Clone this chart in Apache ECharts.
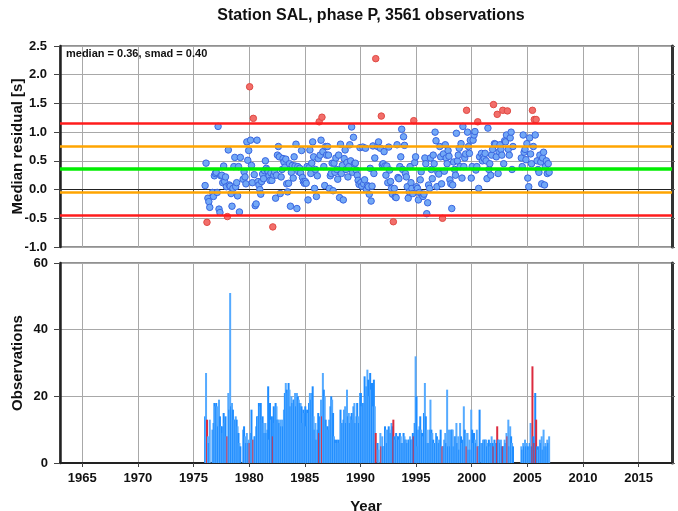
<!DOCTYPE html>
<html><head><meta charset="utf-8">
<script src="https://cdn.jsdelivr.net/npm/echarts@6/dist/echarts.min.js"></script>
<style>html,body{margin:0;padding:0;background:#fff}#c{width:678px;height:511px}</style>
</head><body><div id="c"></div>
<script>
const chartTitle = 'Station SAL, phase P, 3561 observations';
const statsText = 'median = 0.36, smad = 0.40';
const median = 0.36;
const smad = 0.40;
const startYear = 1976; // monthly bins, Jan 1976 .. Dec 2006
const xMin = 1963, xMax = 2018;
const resMin = -1.0, resMax = 2.5, resStep = 0.5;
const obsMin = 0, obsMax = 60, obsStep = 20;

// median residual per month
const medians = [
  /*1976*/ 0.07, 0.46, -0.57, -0.15, -0.21, -0.31, null, null, -0.05, -0.12, 0.24, 0.28,
  /*1977*/ 0.30, -0.05, 1.10, -0.34, -0.40, 0.24, 0.25, 0.12, 0.41, 0.14, 0.22, 0.05,
  /*1978*/ -0.47, 0.69, 0.08, 0.06, -0.07, -0.29, 0.02, 0.40, 0.56, 0.05, 0.12, -0.11,
  /*1979*/ 0.40, -0.39, 0.56, null, null, 0.18, 0.31, 0.22, 0.10, 0.83, 0.51, 0.68,
  /*1980*/ 1.79, 0.86, 0.42, 0.12, 1.24, 0.26, -0.28, -0.25, 0.86, 0.14, 0.08, 0.00,
  /*1981*/ -0.08, 0.14, 0.27, 0.19, 0.33, 0.50, 0.37, 0.34, 0.31, 0.24, 0.16, 0.29,
  /*1982*/ 0.16, -0.65, 0.25, 0.31, -0.15, 0.25, 0.60, 0.75, 0.57, -0.07, 0.22, 0.35,
  /*1983*/ 0.54, 0.48, 0.39, 0.53, 0.10, -0.04, 0.11, 0.45, -0.29, 0.30, 0.42, 0.20,
  /*1984*/ 0.57, 0.41, 0.79, -0.33, 0.40, 0.31, 0.37, 0.29, 0.68, 0.21, 0.14, 0.11,
  /*1985*/ 0.14, 0.11, 0.40, -0.18, 0.38, 0.69, 0.28, 0.46, 0.83, 0.57, 0.02, 0.35,
  /*1986*/ -0.12, 0.24, 0.54, 1.18, 0.60, 0.86, 1.26, 0.66, 0.40, 0.07, 0.75, 0.60,
  /*1987*/ 0.75, 0.60, 0.02, 0.24, 0.28, 0.46, -0.02, 0.46, 0.30, 0.55, 0.35, 0.18,
  /*1988*/ 0.60, -0.14, 0.79, 0.28, 0.42, -0.18, 0.54, 0.69, 0.35, 0.47, 0.22, 0.40,
  /*1989*/ 0.78, 0.50, 1.09, 0.30, 0.91, 0.45, 0.46, 0.34, 0.25, 0.16, 0.09, 0.73,
  /*1990*/ 0.12, 0.06, 0.74, 0.10, 0.17, 0.72, 0.00, 0.07, 0.05, -0.08, 0.37, -0.20,
  /*1991*/ 0.06, 0.76, 0.28, 0.55, 2.28, null, 0.75, 0.83, null, 0.72, 1.28, 0.43,
  /*1992*/ 0.45, 0.66, 0.41, 0.25, 0.41, 0.12, 0.74, 0.34, 0.14, 0.02, -0.08, -0.56,
  /*1993*/ 0.02, -0.13, -0.14, 0.78, 0.21, 0.19, 0.40, 0.57, 1.05, 0.35, 0.92, 0.77,
  /*1994*/ 0.28, 0.22, 0.05, -0.15, -0.04, 0.40, 0.12, 0.02, -0.07, 1.20, 0.47, 0.57,
  /*1995*/ 0.05, 0.02, -0.18, -0.05, 0.17, 0.31, -0.08, -0.12, -0.08, 0.55, 0.45, -0.42,
  /*1996*/ -0.23, 0.08, 0.02, 0.55, 0.35, 0.19, 0.60, 0.45, 1.00, 0.85, 0.05, 0.30,
  /*1997*/ 0.27, 0.75, 0.57, 0.10, -0.50, 0.62, 0.32, 0.78, 0.55, 0.45, 0.68, 0.58,
  /*1998*/ 0.17, 0.10, -0.33, 0.08, 0.48, 0.35, 0.25, 0.98, 0.50, 0.60, 0.72, 0.40,
  /*1999*/ 0.80, 0.20, 1.10, 0.40, 0.55, 0.62, 1.38, 1.00, 0.75, 0.63, 0.86, 0.20,
  /*2000*/ 0.40, 0.86, 0.95, 1.01, 0.34, 0.40, 1.18, 0.02, 0.57, null, 0.63, 0.50,
  /*2001*/ 0.57, 0.54, 0.63, 0.50, 0.19, 1.07, 0.35, 0.45, 0.25, 0.60, 0.70, 1.48,
  /*2002*/ 0.80, 0.79, 0.57, 1.31, 0.28, 0.66, 0.78, 0.70, 0.60, 1.38, 0.45, 0.85,
  /*2003*/ 0.83, 0.95, 1.37, 0.70, 0.60, 0.90, 1.00, 0.35, 0.75, null, null, null,
  /*2004*/ null, null, null, null, null, 0.55, 0.40, 0.95, 0.65, 0.70, 0.52, 0.80,
  /*2005*/ 0.20, 0.05, 0.90, 0.62, 0.45, 1.38, 0.75, 1.22, 0.95, 1.22, 0.50, 0.35,
  /*2006*/ 0.30, 0.60, 0.48, 0.10, 0.55, 0.65, 0.08, 0.40, 0.50, 0.28, 0.45, 0.30
];

// observations per month
const counts = [
  /*1976*/ 14, 27, 13, 8, 6, 13, null, null, 10, 12, 18, 17,
  /*1977*/ 18, 17, 11, 19, 14, 11, 11, 9, 15, 12, 14, 8,
  /*1978*/ 8, 21, 16, 51, 17, 18, 16, 13, 13, 14, 13, 11,
  /*1979*/ 9, 6, 5, null, null, 10, 11, 8, 6, 9, 6, 7,
  /*1980*/ 6, 9, 16, 7, 7, 8, 8, 11, 14, 14, 18, 17,
  /*1981*/ 18, 13, 14, 12, 9, 12, 9, 10, 23, 7, 18, 13,
  /*1982*/ 14, 8, 17, 12, 18, 17, 13, 13, 12, 13, 11, 13,
  /*1983*/ 11, 16, 21, 24, 22, 21, 24, 22, 17, 20, 18, 19,
  /*1984*/ 19, 21, 17, 21, 20, 19, 18, 18, 17, 12, 16, 15,
  /*1985*/ 17, 11, 16, 15, 18, 21, 19, 21, 23, 14, 10, 12,
  /*1986*/ 7, 10, 15, 9, 14, 19, 14, 27, 22, 20, 13, 11,
  /*1987*/ 11, 10, 13, 17, 20, 19, 15, 8, 7, 6, 7, 6,
  /*1988*/ 7, 6, 16, 12, 12, 13, 16, 17, 12, 22, 14, 15,
  /*1989*/ 12, 14, 15, 13, 17, 18, 12, 14, 18, 14, 12, 21,
  /*1990*/ 21, 17, 18, 18, 26, 20, 23, 28, 25, 20, 27, 22,
  /*1991*/ 24, 17, 25, 17, 9, null, 6, 4, null, 9, 5, 8,
  /*1992*/ 5, 5, 11, 10, 6, 10, 11, 10, 9, 12, 11, 13,
  /*1993*/ 8, 7, 9, 8, 8, 7, 9, 8, 6, 6, 9, 8,
  /*1994*/ 7, 7, 6, 7, 7, 8, 7, 7, 9, 8, 12, 32,
  /*1995*/ 20, 5, 10, 11, 14, 10, 9, 8, 15, 24, 14, 10,
  /*1996*/ 6, 6, 10, 19, 10, 9, 7, 6, 6, 9, 8, 7,
  /*1997*/ 6, 7, 10, 5, 5, 5, 7, 9, 6, 22, 5, 10,
  /*1998*/ 5, 10, 10, 10, 5, 8, 8, 12, 6, 8, 4, 12,
  /*1999*/ 8, 6, 7, 17, 10, 9, 5, 9, 4, 7, 4, 16,
  /*2000*/ 10, 6, 9, 7, 6, 10, 5, 5, 16, null, 6, 6,
  /*2001*/ 7, 7, 7, 7, 5, 6, 7, 5, 6, 8, 6, 5,
  /*2002*/ 7, 6, 6, 11, 7, 7, 6, 7, 5, 5, 5, 7,
  /*2003*/ 6, 9, 8, 13, 5, 11, 8, 6, 5, null, null, null,
  /*2004*/ null, null, null, null, null, 5, 4, 6, 5, 7, 5, 6,
  /*2005*/ 5, 4, 6, 12, 5, 29, 8, 6, 21, 13, 5, 4,
  /*2006*/ 5, 7, 6, 8, 4, 10, 5, 6, 5, 7, 6, 8
];

const FONT = '"Liberation Sans", Arial, Helvetica, sans-serif';
const C_RED_BAR = '#dc2b3f', C_BLUE_A = '#1e8cff', C_BLUE_B = '#55aaff';

const bluePts = [], redPts = [], bars = [];
medians.forEach((v, i) => {
  const x = startYear + (i + 0.5) / 12;
  const outlier = v != null && Math.abs(v - median) > 2 * smad;
  if (v != null) (outlier ? redPts : bluePts).push([x, v]);
  if (counts[i] != null) {
    bars.push({ value: [x, counts[i]], itemStyle: { color: outlier ? C_RED_BAR : (i % 2 ? C_BLUE_B : C_BLUE_A) } });
  }
});

const chart = echarts.init(document.getElementById('c'), null, { renderer: 'canvas' });
const gridLine = { show: true, lineStyle: { color: '#a8a8a8', width: 1 } };
const lab = { fontFamily: FONT, fontWeight: 'bold', fontSize: 13, color: '#111' };
const nameStyle = { fontFamily: FONT, fontWeight: 'bold', fontSize: 15, color: '#111' };

const refLines = [
  { v: median + 2 * smad, c: '#ff1c1c', w: 2.5 },
  { v: median + smad, c: '#ffa500', w: 2.5 },
  { v: median, c: '#00ee00', w: 3.5 },
  { v: median - smad, c: '#ffa500', w: 2.5 },
  { v: median - 2 * smad, c: '#ff1c1c', w: 2.5 }
];

chart.setOption({
  animation: false,
  backgroundColor: '#fff',
  title: {
    text: chartTitle, left: 366, top: 3, textAlign: 'center',
    textStyle: { fontFamily: FONT, fontWeight: 'bold', fontSize: 16, color: '#111' }
  },
  graphic: [{
    type: 'text', left: 66, top: 48, z: 100,
    style: { text: statsText, font: 'bold 11px ' + FONT, fill: '#111' }
  }],
  grid: [
    { left: 60, top: 46, width: 612, height: 201, show: true, borderColor: '#222', borderWidth: 1,
      containLabel: false, outerBoundsMode: 'none' },
    { left: 60, top: 263, width: 612, height: 200, show: true, borderColor: '#222', borderWidth: 1,
      containLabel: false, outerBoundsMode: 'none' }
  ],
  xAxis: [
    { gridIndex: 0, type: 'value', min: xMin, max: xMax, splitNumber: 11,
      axisLine: { show: true, lineStyle: { color: '#222', width: 1 } },
      axisTick: { show: true, inside: false, length: 3, lineStyle: { color: '#444' } },
      axisLabel: { show: false }, splitLine: gridLine },
    { gridIndex: 1, type: 'value', min: xMin, max: xMax, splitNumber: 11,
      name: 'Year', nameLocation: 'middle', nameGap: 36, nameMoveOverlap: false,
      nameTextStyle: nameStyle,
      axisLine: { show: true, lineStyle: { color: '#222', width: 2 } },
      axisTick: { show: true, inside: false, length: 4, lineStyle: { color: '#444' } },
      axisLabel: Object.assign({ margin: 9, showMinLabel: false, showMaxLabel: false,
        formatter: v => (v % 5 === 0 ? String(v) : '') }, lab),
      splitLine: gridLine }
  ],
  yAxis: [
    { gridIndex: 0, type: 'value', min: resMin, max: resMax, interval: resStep,
      name: 'Median residual [s]', nameLocation: 'middle', nameGap: 35, nameRotate: 90,
      nameMoveOverlap: false, nameTextStyle: nameStyle,
      axisLine: { show: true, lineStyle: { color: '#222', width: 2.5 } },
      axisTick: { show: true, inside: false, length: 6, lineStyle: { color: '#444' } },
      axisLabel: Object.assign({ margin: 13, formatter: v => v.toFixed(1) }, lab),
      splitLine: gridLine },
    { gridIndex: 0, type: 'value', position: 'right', min: resMin, max: resMax, interval: resStep,
      axisLine: { show: true, lineStyle: { color: '#333', width: 3 } },
      axisTick: { show: true, inside: false, length: 3, lineStyle: { color: '#666' } },
      axisLabel: { show: false }, splitLine: { show: false } },
    { gridIndex: 1, type: 'value', min: obsMin, max: obsMax, interval: obsStep,
      name: 'Observations', nameLocation: 'middle', nameGap: 35, nameRotate: 90,
      nameMoveOverlap: false, nameTextStyle: nameStyle,
      axisLine: { show: true, lineStyle: { color: '#222', width: 2.5 } },
      axisTick: { show: true, inside: false, length: 6, lineStyle: { color: '#444' } },
      axisLabel: Object.assign({ margin: 12 }, lab),
      splitLine: gridLine },
    { gridIndex: 1, type: 'value', position: 'right', min: obsMin, max: obsMax, interval: obsStep,
      axisLine: { show: true, lineStyle: { color: '#333', width: 3 } },
      axisTick: { show: true, inside: false, length: 3, lineStyle: { color: '#666' } },
      axisLabel: { show: false }, splitLine: { show: false } }
  ],
  series: [
    { type: 'line', xAxisIndex: 0, yAxisIndex: 0, data: [], z: 2, silent: true,
      markLine: { silent: true, symbol: 'none', label: { show: false },
        data: refLines.map(r => ({ yAxis: r.v, lineStyle: { color: r.c, width: r.w, type: 'solid' } })) } },
    { type: 'scatter', xAxisIndex: 0, yAxisIndex: 0, data: bluePts, symbolSize: 6.5, z: 3,
      itemStyle: { color: '#72a8f6', borderColor: '#3a66e0', borderWidth: 1, opacity: 1 } },
    { type: 'scatter', xAxisIndex: 0, yAxisIndex: 0, data: redPts, symbolSize: 6.5, z: 4,
      itemStyle: { color: '#f26e6a', borderColor: '#e04a44', borderWidth: 1, opacity: 1 } },
    { type: 'bar', xAxisIndex: 1, yAxisIndex: 2, data: bars, barWidth: 2, z: 3, large: false }
  ]
});
</script></body></html>
